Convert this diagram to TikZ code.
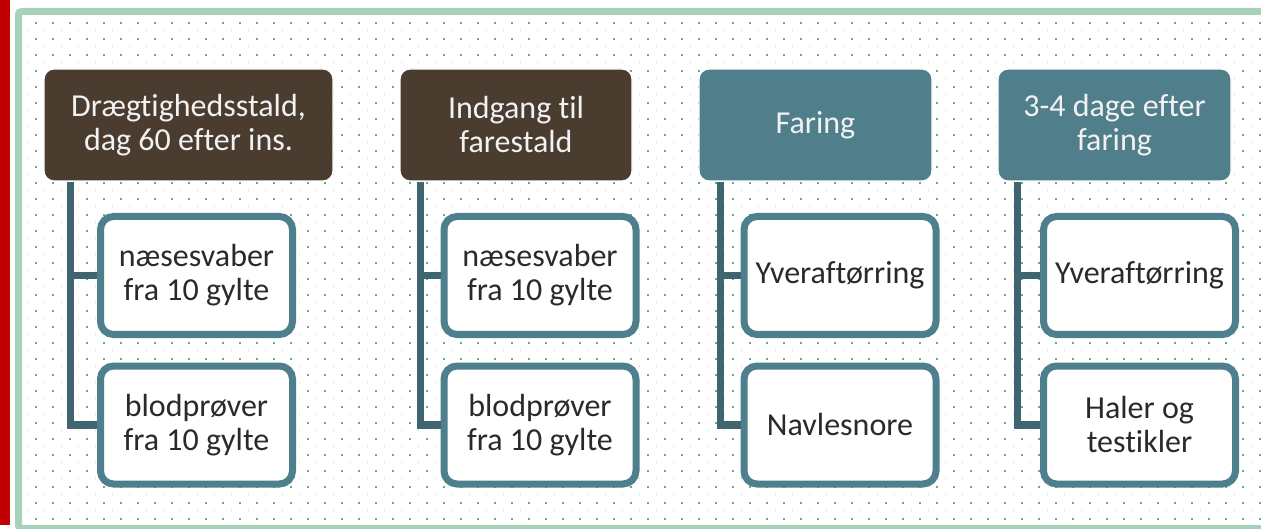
\documentclass[tikz,border=0pt]{standalone}
\usepackage{fontspec}
\setmainfont{Carlito}[Ligatures=NoCommon]
\definecolor{hbrown}{HTML}{4B3C30}
\definecolor{hteal}{HTML}{507E8B}
\definecolor{cstroke}{HTML}{4E7F8C}
\definecolor{connc}{HTML}{3F6571}
\definecolor{bgreen}{HTML}{A8D1BA}
\definecolor{dotdk}{HTML}{5CAE85}
\definecolor{dotlt}{HTML}{A8D6BE}
\definecolor{redbar}{HTML}{C00000}
\definecolor{ctext}{HTML}{2A2A2A}
\tikzset{
  txt/.style={font=\fontsize{32}{34}\selectfont, align=center},
  header/.style={txt, rounded corners=10pt, text=white!95!black, minimum height=112pt, draw=white, line width=1.2pt, inner sep=0pt},
  child/.style={txt, rounded corners=13pt, draw=cstroke, line width=7pt, fill=white, text=ctext, minimum width=192pt, minimum height=118pt, inner sep=0pt},
  conn/.style={draw=connc, line width=7.5pt},
  dotdark/.style={draw=dotdk, line width=1.8pt, dash pattern=on 1.8pt off 15.2pt},
  dotlight/.style={draw=dotlt, line width=1.5pt, dash pattern=on 1.5pt off 15.5pt},
}
\begin{document}
\begin{tikzpicture}[x=1pt,y=-1pt]
\useasboundingbox (0,0) rectangle (1261,529);
\clip (0,0) rectangle (1261,529);
% red bar
\fill[redbar] (0,0) rectangle (9.5,525);
% dotted background
\foreach \k in {0,...,31} \draw[dotdark] (35.1,{22.7+16*\k}) -- (1261,{22.7+16*\k});
\foreach \k in {0,...,30} \draw[dotlight] (26.95,{30.7+16*\k}) -- (1261,{30.7+16*\k});
% green frame
\draw[bgreen, line width=7pt, rounded corners=3pt] (18.5,11.5) rectangle (1290,528.5);
% headers
\node[header, fill=hbrown, minimum width=289pt] (h1) at (188.5,125) {Drægtighedsstald,\\dag 60 efter ins.};
\node[header, fill=hbrown, minimum width=232pt] (h2) at (516,125) {Indgang til\\farestald};
\node[header, fill=hteal, minimum width=233pt] (h3) at (815.5,125) {Faring};
\node[header, fill=hteal, minimum width=233pt] (h4) at (1114.5,125) {3-4 dage efter\\faring};
% children
\node[child] (c11) at (196.5,275.5) {næsesvaber\\fra 10 gylte};
\node[child] (c12) at (196.5,425) {blodprøver\\fra 10 gylte};
\node[child] (c21) at (540,275.5) {næsesvaber\\fra 10 gylte};
\node[child] (c22) at (540,425) {blodprøver\\fra 10 gylte};
\node[child] (c31) at (840,275.5) {Yveraftørring};
\node[child] (c32) at (840,425) {Navlesnore};
\node[child] (c41) at (1139.5,275.5) {Yveraftørring};
\node[child] (c42) at (1139.5,425) {Haler og\\testikler};
% connectors
\coordinate (v1) at ([xshift=27pt]h1.south west);
\coordinate (v2) at ([xshift=21pt]h2.south west);
\coordinate (v3) at ([xshift=22pt]h3.south west);
\coordinate (v4) at ([xshift=20pt]h4.south west);
\foreach \i in {1,2,3,4}{
  \draw[conn] (v\i) |- (c\i 1.west);
  \draw[conn] (v\i) |- (c\i 2.west);
}
\end{tikzpicture}
\end{document}
